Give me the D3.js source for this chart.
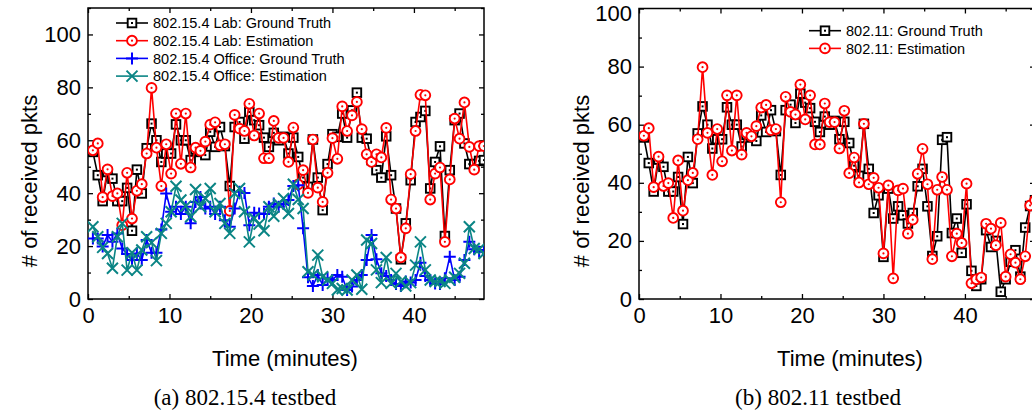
<!DOCTYPE html>
<html>
<head>
<meta charset="utf-8">
<script src="https://cdn.jsdelivr.net/npm/d3@7"></script>
<style>
  body { margin: 0; background: #fff; }
  svg { display: block; }
  text { font-family: "Liberation Sans", Arial, sans-serif; fill: #000; }
</style>
</head>
<body>
<svg id="chart" width="1032" height="417"></svg>
<script>
// Sample times (minutes)
const minutes = [0.6,1.2,1.8,2.4,3.0,3.6,4.2,4.8,5.4,6.0,6.6,7.2,7.8,8.4,9.0,9.6,10.2,10.8,11.4,12.0,
  12.6,13.2,13.8,14.4,15.0,15.6,16.2,16.8,17.4,18.0,18.6,19.2,19.8,20.4,21.0,21.6,22.2,22.8,23.4,24.0,
  24.6,25.2,25.8,26.4,27.0,27.6,28.2,28.8,29.4,30.0,30.6,31.2,31.8,32.4,33.0,33.6,34.2,34.8,35.4,36.0,
  36.6,37.2,37.8,38.4,39.0,39.6,40.2,40.8,41.4,42.0,42.6,43.2,43.8,44.4,45.0,45.6,46.2,46.8,47.4,48.0,48.6];

// (a) 802.15.4 testbed
const labTruth = [55.6,46.8,37,48,45.5,37,37,42,25.8,48.9,39.9,57,66.3,60,51.8,55,55,66,60,60,
  52.5,56.5,55.6,54.4,63.2,57.5,65,57.8,42.7,65,66.9,60.6,70.7,67.6,65.7,61,57.5,62.8,60,61.3,
  55,61,53.7,45.9,42.4,60.3,45.9,33.6,51,62.3,61.3,70.1,61,71.3,78,61,60.6,52.5,48.7,45.9,
  61.5,46.8,34.2,15,28.6,44.9,66.9,68.8,71.1,41.8,51.8,57.7,23.8,48.7,67.6,70.1,58.8,51,51,52.2,52.5];
const labEstimate = [56.2,58.8,38.5,49,38.9,39.9,27.9,47.7,30.4,40.9,43.4,55,79.8,57.2,42.7,58.5,47.4,70.1,51.1,70.1,
  49.7,57.2,56,59.5,65.9,66.8,58.1,58.5,33.3,69.6,64.4,63.5,73.8,61.8,70.1,53.2,53.2,67.3,60.9,60.9,
  51.8,64.8,43.3,48.7,40.1,60.3,42.1,36.7,47.7,60.8,53,72.8,63.5,69.4,74.5,64.2,54.7,51.8,54.7,53.5,
  64.7,37.6,34.2,15.7,26.7,47.2,63.5,77.2,77,37.6,47.4,49.7,21.6,45.2,68.2,60.6,74.3,57.5,48.9,57.8,57.8];
const officeTruth = [22.9,22.9,19.8,24.2,21.6,24.8,19.1,17,14.7,17.2,14.7,22.3,17.5,17.5,26.3,39.9,33,34.9,32.1,34.9,
  28.6,36.7,38.6,34.2,34.9,32.1,34.9,29.8,27.3,34.2,40.5,40.1,27.9,32.6,32.3,32.1,34.9,36.1,34.9,35.9,
  37.4,42.7,43,26.7,8.2,4.9,9.1,5.3,7.8,7.2,9.1,8.4,3.4,4.7,7.2,9.1,14.7,24.2,15,9.7,
  8.7,7.2,5.7,4.9,6.6,6.2,7.2,13.7,8.7,7.2,5.9,5.7,7.8,16,7.2,8.4,14.7,21.6,18.8,17.9,18.5];
const officeEstimate = [27.3,23.5,19.5,17.2,11.6,23.5,28.6,10.9,17.5,10.9,18.5,23.5,21.3,14.5,24.8,28.6,33,42.6,37.4,35.1,
  31.1,41.4,34.9,38,41.8,33,36.1,28.6,24.8,39.9,41.8,33,21.6,30.5,28.3,25.8,34.9,31.3,35.9,38,
  32.3,43.4,37.6,34.2,10.3,9.1,16.6,8.4,7.2,5.9,3.4,4,3.4,7.2,9.1,3.7,22.3,21,11,6.2,
  15.7,5.9,9.7,6.6,4.9,6.2,12.8,21.6,11,7.2,6.6,6.6,5.9,7.2,8.2,9.7,13.5,27.3,19.1,18.8,17.2];

// (b) 802.11 testbed
const wifiTruth = [55.6,46.8,37,48,45.5,37,37,42,25.8,48.9,39.9,57,66.3,60,51.8,55,55,66,60,60,
  52.5,56.5,55.6,54.4,63.2,57.5,65,57.8,42.7,65,66.9,60.6,70.7,67.6,65.7,61,57.5,62.8,60,61.3,
  55,61,53.7,45.9,42.4,60.3,44.8,29.6,35.7,14.5,38,27.7,31.9,28.8,26,29.6,38.8,44.8,31.9,14.8,
  21.6,54.8,55.7,22.7,27.7,15.9,32.6,9.7,4.5,6.8,23.7,17.9,20,2.5,6.8,12.8,16.8,7.7,24.6,32,34];
const wifiEstimate = [56.2,58.8,38.5,49,38.9,39.9,27.9,47.7,30.4,40.9,43.4,55,79.8,57.2,42.7,58.5,47.4,70.1,51.1,70.1,
  49.7,57.2,56,59.5,65.9,66.8,58.1,58.5,33.3,69.6,64.4,63.5,73.8,61.8,70.1,53.2,53.2,67.3,60.9,60.9,
  51.8,64.8,43.3,48.7,40.1,60.3,39.5,41.7,38.3,15.7,39.1,7.1,37.4,38,22.5,27.3,43.1,51.7,39.5,13.7,
  37.6,42,37.6,14.7,22.5,19.3,39.7,5.4,6.8,7.4,25.9,24.2,18.5,26.2,7.7,15.4,12.5,6.8,14.7,32.2,34];

const xTicks = [0, 10, 20, 30, 40];
const xMinor = [5, 15, 25, 35, 45];
const yTicks = [0, 20, 40, 60, 80, 100];
const yMinor = [10, 30, 50, 70, 90, 110];

const svg = d3.select("#chart");

// marker shapes
const markers = {
  square(g, color) {
    g.append("rect").attr("x", -4.3).attr("y", -4.3).attr("width", 8.6).attr("height", 8.6)
      .attr("fill", "#fff").attr("stroke", color).attr("stroke-width", 1.9);
    g.append("rect").attr("x", -1).attr("y", -1).attr("width", 2).attr("height", 2).attr("fill", color);
  },
  circle(g, color) {
    g.append("circle").attr("r", 4.9).attr("fill", "#fff").attr("stroke", color).attr("stroke-width", 1.9);
    g.append("circle").attr("r", 1.1).attr("fill", color);
  },
  plus(g, color) {
    g.append("path").attr("d", "M-6,0H6M0,-6V6").attr("stroke", color).attr("stroke-width", 2).attr("fill", "none");
  },
  cross(g, color) {
    g.append("path").attr("d", "M-5.5,-5.5L5.5,5.5M-5.5,5.5L5.5,-5.5").attr("stroke", color).attr("stroke-width", 2).attr("fill", "none");
  }
};

function drawPanel(cfg) {
  const x = d3.scaleLinear().domain([0, 48.6]).range([cfg.left, cfg.left + 396]);
  const y = d3.scaleLinear().domain([0, cfg.yMax]).range([299, cfg.top]);
  const g = svg.append("g");

  const clipId = "clip" + cfg.id;
  g.append("clipPath").attr("id", clipId).append("rect")
    .attr("x", x.range()[0]).attr("y", cfg.top).attr("width", 396).attr("height", 299 - cfg.top);

  // axes with inward ticks on all four sides
  const yMinorVals = yMinor.filter(v => v <= cfg.yMax);
  const axisGroup = (axis, tx, ty) => {
    const a = g.append("g").attr("transform", `translate(${tx},${ty})`).call(axis);
    a.select(".domain").remove();
    a.selectAll("line").attr("stroke", "#000").attr("stroke-width", 1.3);
    a.selectAll("text").style("font-size", "22px").style("font-family", "'Liberation Sans', Arial, sans-serif");
    return a;
  };
  const yLabels = axisGroup(d3.axisLeft(y).tickValues(yTicks).tickSize(-5).tickPadding(7), x.range()[0], 0);
  // keep a label that sits at the very top edge inside the page
  yLabels.selectAll("text").filter(d => y(d) < 10).attr("dy", "0.56em");
  axisGroup(d3.axisLeft(y).tickValues(yMinorVals).tickSize(-3).tickFormat(""), x.range()[0], 0);
  axisGroup(d3.axisRight(y).tickValues(yTicks).tickSize(-5).tickFormat(""), x.range()[1], 0);
  axisGroup(d3.axisRight(y).tickValues(yMinorVals).tickSize(-3).tickFormat(""), x.range()[1], 0);
  axisGroup(d3.axisBottom(x).tickValues(xTicks).tickSize(-5).tickPadding(8), 0, 299);
  axisGroup(d3.axisBottom(x).tickValues(xMinor).tickSize(-3).tickFormat(""), 0, 299);
  axisGroup(d3.axisTop(x).tickValues(xTicks).tickSize(-5).tickFormat(""), 0, cfg.top);
  axisGroup(d3.axisTop(x).tickValues(xMinor).tickSize(-3).tickFormat(""), 0, cfg.top);

  g.append("rect").attr("x", x.range()[0]).attr("y", cfg.top).attr("width", 396).attr("height", 299 - cfg.top)
    .attr("fill", "none").attr("stroke", "#000").attr("stroke-width", 1.5);

  // series
  const plot = g.append("g").attr("clip-path", `url(#${clipId})`);
  const line = d3.line().x((d, i) => x(minutes[i])).y(d => y(d));
  cfg.series.forEach(s => {
    plot.append("path").datum(s.values).attr("d", line)
      .attr("fill", "none").attr("stroke", s.color).attr("stroke-width", 1.6).attr("stroke-linejoin", "round");
    plot.append("g").selectAll("g").data(s.values).join("g")
      .attr("transform", (d, i) => `translate(${x(minutes[i])},${y(d)})`)
      .each(function () { markers[s.marker](d3.select(this), s.color); });
  });

  // legend
  const lg = g.append("g");
  cfg.series.forEach((s, i) => {
    const cy = cfg.legend.y + i * 17.7;
    lg.append("line").attr("x1", cfg.legend.x).attr("x2", cfg.legend.x + 32).attr("y1", cy).attr("y2", cy)
      .attr("stroke", s.color).attr("stroke-width", 1.6);
    markers[s.marker](lg.append("g").attr("transform", `translate(${cfg.legend.x + 16},${cy})`), s.color);
    lg.append("text").attr("x", cfg.legend.x + 37).attr("y", cy + 5.2)
      .style("font-size", "14.5px").text(s.name);
  });

  // axis titles and caption
  g.append("text").attr("transform", `translate(${cfg.yTitleX},181) rotate(-90)`)
    .attr("text-anchor", "middle").style("font-size", "22px").text("# of received pkts");
  g.append("text").attr("x", cfg.xTitleX).attr("y", 366).attr("text-anchor", "middle")
    .style("font-size", "22px").text("Time (minutes)");
  g.append("text").attr("x", cfg.captionX).attr("y", 405).attr("text-anchor", "middle")
    .style("font-family", "'Liberation Serif', 'Times New Roman', serif").style("font-size", "23px")
    .text(cfg.caption);
}

drawPanel({
  id: "a", left: 88, top: 8, yMax: 110,
  yTitleX: 37, xTitleX: 285, captionX: 245, caption: "(a) 802.15.4 testbed",
  legend: { x: 116, y: 23 },
  series: [
    { name: "802.15.4 Lab: Ground Truth", values: labTruth, color: "#000000", marker: "square" },
    { name: "802.15.4 Lab: Estimation", values: labEstimate, color: "#ff0000", marker: "circle" },
    { name: "802.15.4 Office: Ground Truth", values: officeTruth, color: "#0000ff", marker: "plus" },
    { name: "802.15.4 Office: Estimation", values: officeEstimate, color: "#0b8585", marker: "cross" }
  ]
});

drawPanel({
  id: "b", left: 639, top: 8.5, yMax: 100,
  yTitleX: 589, xTitleX: 850, captionX: 818, caption: "(b) 802.11 testbed",
  legend: { x: 809, y: 30.7 },
  series: [
    { name: "802.11: Ground Truth", values: wifiTruth, color: "#000000", marker: "square" },
    { name: "802.11: Estimation", values: wifiEstimate, color: "#ff0000", marker: "circle" }
  ]
});
</script>
</body>
</html>
